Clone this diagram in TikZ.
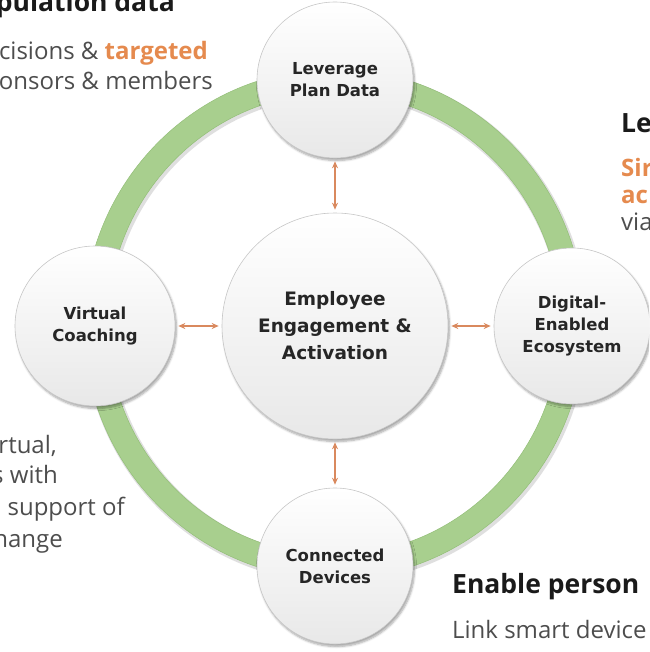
\documentclass[tikz,border=0pt]{standalone}
\usepackage{fontspec}
\setmainfont{Open Sans}
\newfontfamily\circfont{DejaVu Sans}
\usetikzlibrary{arrows.meta,shadows.blur}
\definecolor{ringgreen}{HTML}{A8CF8E}
\definecolor{ringedge}{HTML}{93BE78}
\definecolor{arrorange}{HTML}{D9895E}
\definecolor{txtorange}{HTML}{E58A4E}
\definecolor{bodygray}{HTML}{4D4D4D}
\definecolor{headdark}{HTML}{1A1A1A}
\definecolor{circtext}{HTML}{262626}
\begin{document}
\begin{tikzpicture}[x=1pt,y=-1pt,
  bubble/.style={circle, draw=black!22, line width=0.6pt, top color=white, bottom color=black!9,
    text=circtext, align=center, inner sep=0pt,
    font=\circfont\bfseries\fontsize{16.5}{22}\selectfont,
    blur shadow={shadow xshift=1.5pt, shadow yshift=-2.5pt, shadow blur steps=6, shadow opacity=35}},
  bigbubble/.style={bubble, font=\circfont\bfseries\fontsize{18.5}{27}\selectfont},
  link/.style={arrorange, line width=1.5pt, {Stealth[length=7pt,width=6pt]}-{Stealth[length=7pt,width=6pt]}, shorten <=3pt, shorten >=3pt},
  head/.style={inner sep=0pt, text=headdark, font=\bfseries\fontsize{26.5}{30}\selectfont},
  body/.style={inner sep=0pt, text=bodygray, font=\fontsize{24}{30}\selectfont},
  hl/.style={inner sep=0pt, text=txtorange, font=\bfseries\fontsize{24}{30}\selectfont}
]
\useasboundingbox (0,0) rectangle (649,652);
\clip (0,0) rectangle (649,652);

% ring
\draw[line width=27pt, black!25, opacity=0.5] (335.5,326) ellipse [x radius=238.5, y radius=243];
\draw[line width=24pt, ringgreen] (334,324) ellipse [x radius=238.5, y radius=243];
\draw[line width=0.5pt, ringedge] (334,324) ellipse [x radius=250.5, y radius=255];
\draw[line width=0.5pt, ringedge] (334,324) ellipse [x radius=226.5, y radius=231];

% bubbles
\node[bubble, minimum size=156pt] (plan) at (335,80) {Leverage\\Plan Data};
\node[bubble, minimum size=160pt] (coach) at (95,326) {Virtual\\Coaching};
\node[bubble, minimum size=156pt] (eco) at (572,326) {Digital-\\Enabled\\Ecosystem};
\node[bubble, minimum size=156pt] (dev) at (335,566) {Connected\\Devices};
\node[bigbubble, minimum size=226pt] (core) at (335,326) {Employee\\Engagement \&\\Activation};

% connectors
\draw[link] (plan) -- (core);
\draw[link] (coach) -- (core);
\draw[link] (core) -- (eco);
\draw[link] (core) -- (dev);

% top-left text
\node[head, anchor=base east] (tl1) at (175,12) {pulation data};
\node[body, anchor=base east] (tl2) at (208,60) {cisions \& \textcolor{txtorange}{\bfseries targeted}};
\node[body, anchor=base east] (tl3) at (213,90) {onsors \& members};

% right text
\node[head, anchor=base west] (r1) at (621,133) {Le};
\node[hl, anchor=base west] (r2) at (621,177) {Sir};
\node[hl, anchor=base west] (r3) at (621,204) {ac};
\node[body, anchor=base west] (r4) at (621,230) {via};

% left text
\node[body, anchor=base east] (l1) at (57,453) {rtual,};
\node[body, anchor=base east] (l2) at (58,483) {s with};
\node[body, anchor=base east] (l3) at (125,515) {support of};
\node[body, anchor=base east] (l4) at (63,547) {hange};

% bottom-right text
\node[head, anchor=base west] (b1) at (452,593) {Enable person};
\node[body, anchor=base west] (b2) at (452,638) {Link smart device};
\end{tikzpicture}
\end{document}
